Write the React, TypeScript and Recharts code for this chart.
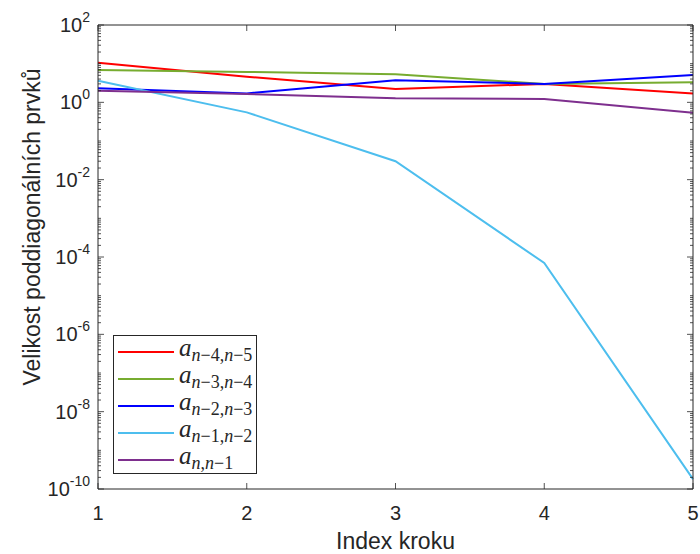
import { LineChart, Line, XAxis, YAxis } from "recharts";

const steps = [1, 2, 3, 4, 5];
const a45 = [10.5, 4.6, 2.2, 3.0, 1.7];
const a34 = [6.9, 6.1, 5.3, 3.0, 3.3];
const a23 = [2.3, 1.7, 3.7, 3.0, 5.1];
const a12 = [3.6, 0.55, 0.03, 7e-5, 1.8e-10];
const ann1 = [2.0, 1.64, 1.27, 1.22, 0.54];

const xTicks = [1, 2, 3, 4, 5];
const majorExps = [-10, -8, -6, -4, -2, 0, 2];
const decades = [-10, -9, -8, -7, -6, -5, -4, -3, -2, -1, 0, 1];
const mantissas = [1, 2, 3, 4, 5, 6, 7, 8, 9];

const series = [
  { key: "a45", values: a45, color: "#FF0000", sub: "n−4,n−5" },
  { key: "a34", values: a34, color: "#77AC30", sub: "n−3,n−4" },
  { key: "a23", values: a23, color: "#0000FF", sub: "n−2,n−3" },
  { key: "a12", values: a12, color: "#4DBEEE", sub: "n−1,n−2" },
  { key: "ann1", values: ann1, color: "#7E2F8E", sub: "n,n−1" },
];

const data = steps.map((s, i) => {
  const row: Record<string, number> = { step: s };
  series.forEach((se) => (row[se.key] = se.values[i]));
  return row;
});

const yTicks: number[] = [];
decades.forEach((d) => mantissas.forEach((m) => yTicks.push(Number(`${m}e${d}`))));
yTicks.push(100);

const AXIS = "#262626";
const FONT = '"Liberation Sans", Arial, Helvetica, sans-serif';

const isMajor = (v: number) => {
  const e = Math.round(Math.log10(v));
  return Math.abs(Math.log10(v) - e) < 1e-6 && majorExps.includes(e);
};

const LeftTick = (props: any) => {
  const { x, y, payload } = props;
  const v = payload.value;
  const major = isMajor(v);
  const exp = Math.round(Math.log10(v));
  return (
    <g>
      <line x1={x} x2={x + (major ? 6 : 3)} y1={y} y2={y} stroke={AXIS} strokeWidth={0.8} />
      {major && (
        <text x={x - 8} y={y + 7} textAnchor="end" fill={AXIS} fontSize={20} fontFamily={FONT}>
          <tspan>10</tspan>
          <tspan dy={-10} fontSize={14}>{`${exp}`}</tspan>
        </text>
      )}
    </g>
  );
};

const RightTick = (props: any) => {
  const { x, y, payload } = props;
  const major = isMajor(payload.value);
  return <line x1={x} x2={x - (major ? 6 : 3)} y1={y} y2={y} stroke={AXIS} strokeWidth={0.8} />;
};

const BottomTick = (props: any) => {
  const { x, y, payload } = props;
  return (
    <g>
      <line x1={x} x2={x} y1={y} y2={y - 6} stroke={AXIS} strokeWidth={0.8} />
      <text x={x} y={y + 31} textAnchor="middle" fill={AXIS} fontSize={20} fontFamily={FONT}>
        {payload.value}
      </text>
    </g>
  );
};

const TopTick = (props: any) => {
  const { x, y } = props;
  return <line x1={x} x2={x} y1={y} y2={y + 6} stroke={AXIS} strokeWidth={0.8} />;
};

const XLabel = (props: any) => {
  const vb = props.viewBox || { x: 98, width: 595 };
  return (
    <text x={vb.x + vb.width / 2} y={549} textAnchor="middle" fill={AXIS} fontSize={23} fontFamily={FONT}>
      Index kroku
    </text>
  );
};

const YLabel = () => (
  <text
    x={40}
    y={227}
    transform="rotate(-90, 40, 227)"
    textAnchor="middle"
    fill={AXIS}
    fontSize={23}
    fontFamily={FONT}
  >
    Velikost poddiagonálních prvků
  </text>
);

const SubText = ({ text }: { text: string }) => (
  <>
    {text.split("").map((c, i) =>
      c === "n" ? (
        <i key={i}>{c}</i>
      ) : (
        <span key={i} style={{ fontStyle: "normal" }}>
          {c}
        </span>
      )
    )}
  </>
);

export default function App() {
  return (
    <div style={{ position: "relative", width: 700, height: 554, background: "#fff" }}>
      <style>{"body{margin:0}"}</style>
      <LineChart width={700} height={554} data={data} margin={{ top: 0, right: 0, bottom: 0, left: 0 }}>
        <XAxis
          xAxisId="bottom"
          dataKey="step"
          type="number"
          domain={[1, 5]}
          ticks={xTicks}
          interval={0}
          height={65}
          tickSize={0}
          tickMargin={0}
          tickLine={false}
          axisLine={{ stroke: AXIS }}
          tick={BottomTick}
          label={XLabel}
        />
        <XAxis
          xAxisId="top"
          orientation="top"
          dataKey="step"
          type="number"
          domain={[1, 5]}
          ticks={xTicks}
          interval={0}
          height={25}
          tickSize={0}
          tickMargin={0}
          tickLine={false}
          axisLine={{ stroke: AXIS }}
          tick={TopTick}
        />
        <YAxis
          yAxisId="left"
          type="number"
          scale="log"
          domain={[1e-10, 100]}
          allowDataOverflow
          ticks={yTicks}
          interval={0}
          width={98}
          tickSize={0}
          tickMargin={0}
          tickLine={false}
          axisLine={{ stroke: AXIS }}
          tick={LeftTick}
          label={YLabel}
        />
        <YAxis
          yAxisId="right"
          orientation="right"
          type="number"
          scale="log"
          domain={[1e-10, 100]}
          allowDataOverflow
          ticks={yTicks}
          interval={0}
          width={7}
          tickSize={0}
          tickMargin={0}
          tickLine={false}
          axisLine={{ stroke: AXIS }}
          tick={RightTick}
        />
        {series.map((se) => (
          <Line
            key={se.key}
            xAxisId="bottom"
            yAxisId="left"
            type="linear"
            dataKey={se.key}
            stroke={se.color}
            strokeWidth={2}
            dot={false}
            isAnimationActive={false}
          />
        ))}
      </LineChart>
      <div
        style={{
          position: "absolute",
          left: 113,
          top: 335,
          width: 142,
          height: 137,
          border: `1px solid ${AXIS}`,
          background: "#fff",
          boxSizing: "content-box",
        }}
      >
        {series.map((se, i) => (
          <div
            key={se.key}
            style={{ position: "absolute", left: 4, top: 2 + i * 27, height: 27, display: "flex", alignItems: "center" }}
          >
            <div style={{ width: 56, height: 2, background: se.color }} />
            <span
              style={{
                marginLeft: 5,
                fontFamily: '"Liberation Serif", "DejaVu Serif", serif',
                fontStyle: "italic",
                fontSize: 25,
                color: AXIS,
                lineHeight: "27px",
                whiteSpace: "nowrap",
              }}
            >
              a
              <sub style={{ fontSize: 18, verticalAlign: "-5px" }}>
                <SubText text={se.sub} />
              </sub>
            </span>
          </div>
        ))}
      </div>
    </div>
  );
}
